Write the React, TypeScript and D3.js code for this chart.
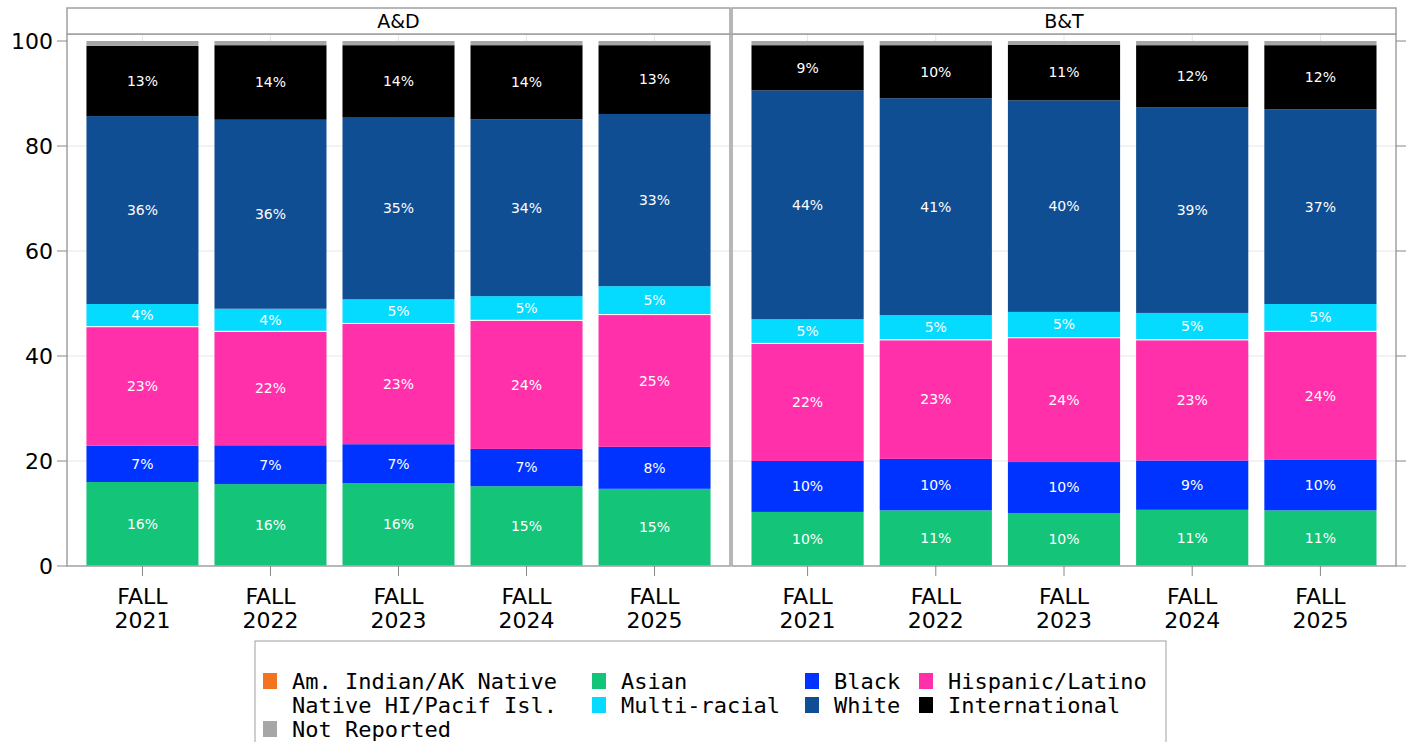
import React from "react";
import * as d3 from "d3";

const groups = ["A&D", "B&T"];
const terms = ["FALL 2021", "FALL 2022", "FALL 2023", "FALL 2024", "FALL 2025"];
const categories = [
  "Am. Indian/AK Native",
  "Asian",
  "Black",
  "Hispanic/Latino",
  "Native HI/Pacif Isl.",
  "Multi-racial",
  "White",
  "International",
  "Not Reported",
];
const colors = ["#F47321", "#14C479", "#0033FF", "#FF30AA", "#FFFFFF", "#05DBFF", "#0F4E93", "#000000", "#A6A6A6"];

// percent values per term, in category order (bottom to top)
const adValues = [
  [0.1, 15.9, 6.9, 22.6, 0.2, 4.2, 35.8, 13.4, 0.9],
  [0.1, 15.5, 7.4, 21.6, 0.2, 4.2, 36.0, 14.2, 0.8],
  [0.1, 15.7, 7.4, 22.9, 0.2, 4.5, 34.6, 13.8, 0.8],
  [0.1, 15.1, 7.1, 24.4, 0.2, 4.5, 33.7, 14.1, 0.8],
  [0.1, 14.6, 8.0, 25.1, 0.2, 5.3, 32.8, 13.1, 0.8],
];
const btValues = [
  [0.1, 10.2, 9.7, 22.3, 0.2, 4.5, 43.6, 8.6, 0.8],
  [0.1, 10.5, 9.8, 22.6, 0.2, 4.6, 41.3, 10.1, 0.8],
  [0.1, 10.0, 9.7, 23.6, 0.2, 4.8, 40.3, 10.6, 0.7],
  [0.1, 10.6, 9.4, 22.9, 0.2, 5.0, 39.2, 11.8, 0.8],
  [0.1, 10.5, 9.6, 24.4, 0.2, 5.1, 37.1, 12.2, 0.8],
];
const yTicks = [0, 20, 40, 60, 80, 100];

const W = 1411;
const H = 742;
const panels = [
  { x0: 67, x1: 730 },
  { x0: 732, x1: 1396 },
];
const stripTop = 8;
const plotTop = 34;
const plotBottom = 566;

const y = d3.scaleLinear().domain([0, 100]).range([plotBottom, 41]);

const sans = "DejaVu Sans, sans-serif";
const mono = "DejaVu Sans Mono, monospace";

function Panel({ idx, values }: { idx: number; values: number[][] }) {
  const { x0, x1 } = panels[idx];
  const x = d3.scaleBand().domain(terms).range([x0, x1]).paddingInner(0.125).paddingOuter(0.152);
  const stack = d3
    .stack<number[]>()
    .keys(categories.map((_, i) => String(i)))
    .value((d, k) => d[+k]);
  const series = stack(values);

  return (
    <g>
      {/* grid */}
      {yTicks.slice(1, -1).map((t) => (
        <line key={t} x1={x0} x2={x1} y1={y(t)} y2={y(t)} stroke="#E6E6E6" />
      ))}
      {terms.map((t) => (
        <line
          key={t}
          x1={x(t)! + x.bandwidth() / 2}
          x2={x(t)! + x.bandwidth() / 2}
          y1={plotTop}
          y2={plotBottom}
          stroke="#E6E6E6"
        />
      ))}
      {/* bars */}
      {series.map((s, ci) =>
        s.map((d, ti) => (
          <rect
            key={`${ci}-${ti}`}
            x={x(terms[ti])}
            width={x.bandwidth()}
            y={y(d[1])}
            height={Math.max(0, y(d[0]) - y(d[1]))}
            fill={colors[ci]}
          />
        ))
      )}
      {series.map((s, ci) =>
        s.map((d, ti) => {
          const v = d[1] - d[0];
          if (v < 3) return null;
          return (
            <text
              key={`l${ci}-${ti}`}
              x={x(terms[ti])! + x.bandwidth() / 2}
              y={(y(d[0]) + y(d[1])) / 2}
              dy="0.35em"
              textAnchor="middle"
              fill="#FFFFFF"
              fontFamily={sans}
              fontSize={14}
            >
              {Math.round(v)}%
            </text>
          );
        })
      )}
      {/* frame */}
      <rect x={x0} y={plotTop} width={x1 - x0} height={plotBottom - plotTop} fill="none" stroke="#A0A0A0" strokeWidth={1.5} />
      <rect x={x0} y={stripTop} width={x1 - x0} height={plotTop - stripTop} fill="#FFFFFF" stroke="#A0A0A0" strokeWidth={1.5} />
      <text x={(x0 + x1) / 2} y={28} textAnchor="middle" fontFamily={sans} fontSize={19} fill="#000">
        {groups[idx]}
      </text>
      {/* x axis */}
      {terms.map((t) => {
        const cx = x(t)! + x.bandwidth() / 2;
        const [a, b] = t.split(" ");
        return (
          <g key={t}>
            <line x1={cx} x2={cx} y1={plotBottom} y2={plotBottom + 10} stroke="#888" />
            <text x={cx} y={604} textAnchor="middle" fontFamily={sans} fontSize={22} fill="#000">
              {a}
            </text>
            <text x={cx} y={628} textAnchor="middle" fontFamily={sans} fontSize={22} fill="#000">
              {b}
            </text>
          </g>
        );
      })}
    </g>
  );
}

export default function App() {
  const legendCols = [263, 592, 805, 919];
  return (
    <svg width={W} height={H} style={{ position: "absolute", left: 0, top: 0, background: "#fff" }}>
      <Panel idx={0} values={adValues} />
      <Panel idx={1} values={btValues} />
      {/* y axis */}
      {yTicks.map((t) => (
        <g key={t}>
          <line x1={57} x2={67} y1={y(t)} y2={y(t)} stroke="#888" />
          <line x1={1396} x2={1406} y1={y(t)} y2={y(t)} stroke="#888" />
          <text x={53} y={y(t)} dy="0.36em" textAnchor="end" fontFamily={sans} fontSize={22} fill="#000">
            {t}
          </text>
        </g>
      ))}
      {/* legend */}
      <rect x={255} y={641} width={911} height={110} fill="#fff" stroke="#A0A0A0" />
      {categories.map((c, i) => {
        const row = Math.floor(i / 4);
        const col = i % 4;
        const lx = legendCols[col];
        const ly = 673 + row * 24;
        return (
          <g key={c}>
            <rect x={lx} y={ly} width={14} height={16} fill={colors[i]} />
            <text x={lx + 29} y={ly + 16} fontFamily={mono} fontSize={22} fill="#000">
              {c}
            </text>
          </g>
        );
      })}
    </svg>
  );
}
